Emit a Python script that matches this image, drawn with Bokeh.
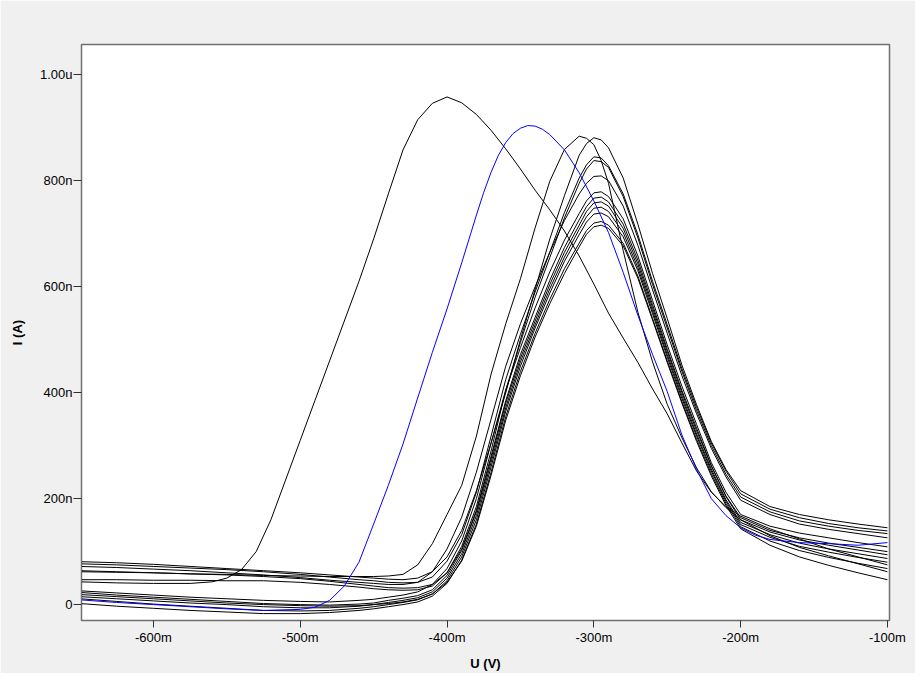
from bokeh.plotting import figure
from bokeh.models import FixedTicker, Range1d
from bokeh.embed import file_html
from bokeh.resources import INLINE

# Voltage grid (mV) shared by the cluster of black curves
u_mv = [-650, -625, -600, -575, -550, -525, -500, -480, -460,
        -450, -440, -430, -420, -410, -400, -390, -380, -370, -360,
        -350, -340, -330, -320, -310, -305, -300, -295, -290, -280,
        -270, -260, -250, -240, -230, -220, -210, -200,
        -180, -160, -140, -120, -100]

# Far-left black curve (mV / nA)
u_far = [-650, -625, -600, -575, -560, -550, -540, -530, -520, -510,
         -500, -490, -480, -470, -460, -450, -440, -430, -420, -410,
         -400, -390, -380, -370, -360, -350, -340, -330, -320, -310,
         -300, -290, -280, -270, -260, -250, -240, -230, -220, -210,
         -200, -180, -160, -140, -120, -100]
far_left = [43, 41, 40, 40, 43, 50, 66, 100, 160, 235,
            310, 385, 460, 535, 610, 690, 775, 858, 915, 946,
            958, 947, 925, 895, 860, 822, 782, 745, 705, 658,
            605, 550, 503, 457, 407, 360, 305, 252, 212, 185,
            167, 143, 124, 105, 90, 75]

# Blue curve (mV / nA)
u_blue = [-650, -625, -600, -575, -550, -525, -500, -490, -480, -470,
          -460, -450, -440, -430, -420, -410, -400, -390, -385, -380,
          -375, -370, -365, -360, -355, -350, -345, -340, -335, -330,
          -320, -310, -300, -290, -280, -270, -260, -250, -240, -230,
          -220, -210, -200, -190, -180, -160, -140, -120, -100]
blue_curve = [9, 4, 0, -4, -8, -11, -9, -5, 8, 35,
              80, 152, 225, 303, 390, 476, 558, 645, 690, 735,
              778, 816, 848, 872, 889, 899, 904, 903, 897, 887,
              858, 815, 762, 702, 627, 546, 472, 402, 320, 255,
              200, 168, 145, 131, 123, 117, 115, 112, 117]

# Cluster of black curves (nA on u_mv)
c1 = [62, 61, 60, 58, 57, 55, 54, 53, 53,
      53, 54, 57, 75, 115, 170, 225, 318, 435, 530,
      615, 711, 799, 859, 884, 880, 868, 838, 795, 668,
      552, 458, 378, 315, 258, 213, 183, 160,
      130, 108, 92, 77, 62]
c2 = [81, 79, 76, 72, 68, 64, 60, 56, 52,
      50, 48, 47, 50, 62, 90, 140, 215, 305, 400,
      500, 595, 690, 772, 848, 870, 881, 877, 862, 805,
      718, 625, 540, 452, 377, 308, 255, 215,
      185, 170, 160, 152, 145]
c3 = [77, 75, 72, 69, 66, 62, 57, 52, 47,
      45, 42, 41, 42, 52, 82, 132, 212, 318, 425,
      510, 590, 665, 740, 805, 830, 845, 843, 828, 775,
      698, 610, 528, 445, 372, 305, 252, 209,
      180, 164, 153, 145, 139]
c4 = [47, 47, 46, 46, 45, 45, 42, 38, 33,
      30, 28, 27, 28, 35, 60, 110, 185, 290, 405,
      495, 580, 655, 730, 795, 822, 838, 836, 825, 770,
      692, 604, 522, 440, 366, 300, 246, 203,
      175, 158, 148, 140, 134]
c5 = [72, 70, 67, 64, 60, 56, 51, 46, 42,
      40, 38, 38, 42, 62, 105, 165, 250, 350, 450,
      530, 600, 665, 725, 775, 795, 808, 809, 800, 752,
      678, 594, 512, 432, 360, 295, 241, 197,
      170, 152, 142, 134, 126]
c6 = [26, 22, 18, 14, 11, 8, 6, 5, 8,
      10, 14, 18, 24, 38, 68, 120, 200, 305, 405,
      485, 560, 628, 688, 738, 762, 777, 779, 770, 728,
      658, 574, 490, 412, 340, 268, 212, 170,
      148, 135, 126, 117, 109]
c7 = [64, 62, 60, 58, 56, 53, 49, 44, 38,
      35, 32, 31, 32, 38, 60, 105, 178, 280, 385,
      472, 542, 612, 674, 726, 751, 767, 769, 760, 718,
      650, 566, 482, 404, 333, 262, 205, 164,
      140, 126, 116, 108, 100]
c8 = [23, 18, 14, 10, 6, 2, 0, -1, 1,
      3, 8, 12, 17, 28, 55, 102, 175, 275, 380,
      465, 535, 604, 665, 716, 742, 758, 760, 752, 710,
      643, 560, 478, 400, 328, 262, 204, 160,
      137, 122, 112, 103, 94]
c9 = [15, 11, 7, 3, 0, -4, -6, -6, -3,
      0, 4, 8, 13, 24, 50, 96, 168, 268, 372,
      458, 528, 596, 656, 708, 732, 748, 750, 742, 702,
      636, 554, 472, 394, 322, 256, 198, 155,
      132, 116, 105, 96, 87]
c10 = [11, 6, 1, -3, -7, -11, -12, -11, -7,
       -4, 0, 4, 9, 20, 45, 90, 160, 260, 365,
       450, 522, 588, 648, 698, 722, 737, 739, 732, 694,
       630, 549, 467, 389, 318, 252, 195, 151,
       127, 110, 99, 89, 80]
c11 = [2, -3, -7, -11, -14, -17, -17, -15, -11,
       -8, -4, 0, 5, 16, 40, 84, 152, 250, 355,
       440, 512, 576, 634, 682, 706, 720, 723, 716, 682,
       620, 540, 460, 383, 312, 247, 191, 147,
       120, 102, 89, 78, 68]
c12 = [19, 15, 11, 7, 3, 0, -2, -3, -2,
       0, 2, 5, 10, 20, 42, 82, 148, 244, 348,
       432, 505, 568, 625, 675, 699, 713, 716, 710, 677,
       616, 537, 457, 380, 308, 243, 187, 143,
       112, 90, 74, 60, 47]

cluster = [c1, c2, c3, c4, c5, c6, c7, c8, c9, c10, c11, c12]

x_ticks = [-600, -500, -400, -300, -200, -100]
x_tick_labels = ["-600m", "-500m", "-400m", "-300m", "-200m", "-100m"]
y_ticks = [0, 200, 400, 600, 800, 1000]
y_tick_labels = ["0", "200n", "400n", "600n", "800n", "1.00u"]

FONT = "Liberation Sans"

p = figure(width=915, height=673, output_backend="svg", toolbar_location=None,
           x_range=Range1d(-649, -98.6), y_range=Range1d(-30, 1057),
           min_border_left=81, min_border_right=26,
           min_border_top=44, min_border_bottom=53)

p.background_fill_color = "white"
p.border_fill_color = "#f0f0f0"
p.outline_line_color = "#707070"
p.outline_line_width = 1.5
p.xgrid.visible = False
p.ygrid.visible = False

for ys in cluster:
    p.line(u_mv, ys, line_color="black", line_width=1)
p.line(u_far, far_left, line_color="black", line_width=1)
p.line(u_blue, blue_curve, line_color="#0000ff", line_width=1)

p.xaxis.ticker = FixedTicker(ticks=x_ticks)
p.xaxis.major_label_overrides = {t: l for t, l in zip(x_ticks, x_tick_labels)}
p.yaxis.ticker = FixedTicker(ticks=y_ticks)
p.yaxis.major_label_overrides = {t: l for t, l in zip(y_ticks, y_tick_labels)}

for ax in (p.xaxis[0], p.yaxis[0]):
    ax.axis_line_color = "#707070"
    ax.major_tick_line_color = "#303030"
    ax.minor_tick_line_color = None
    ax.major_tick_in = 0
    ax.major_label_text_font = FONT
    ax.major_label_text_font_size = "13px"
    ax.major_label_text_color = "black"
    ax.axis_label_text_font = FONT
    ax.axis_label_text_font_size = "13px"
    ax.axis_label_text_font_style = "bold"
    ax.axis_label_text_color = "black"

p.xaxis.major_tick_out = 7
p.xaxis.major_label_standoff = 2
p.xaxis.axis_label = "U (V)"
p.xaxis.axis_label_standoff = 8

p.yaxis.major_tick_out = 8
p.yaxis.major_label_standoff = 1
p.yaxis.axis_label = "I (A)"
p.yaxis.axis_label_standoff = 12

open("out.html", "w").write(file_html(p, INLINE))
